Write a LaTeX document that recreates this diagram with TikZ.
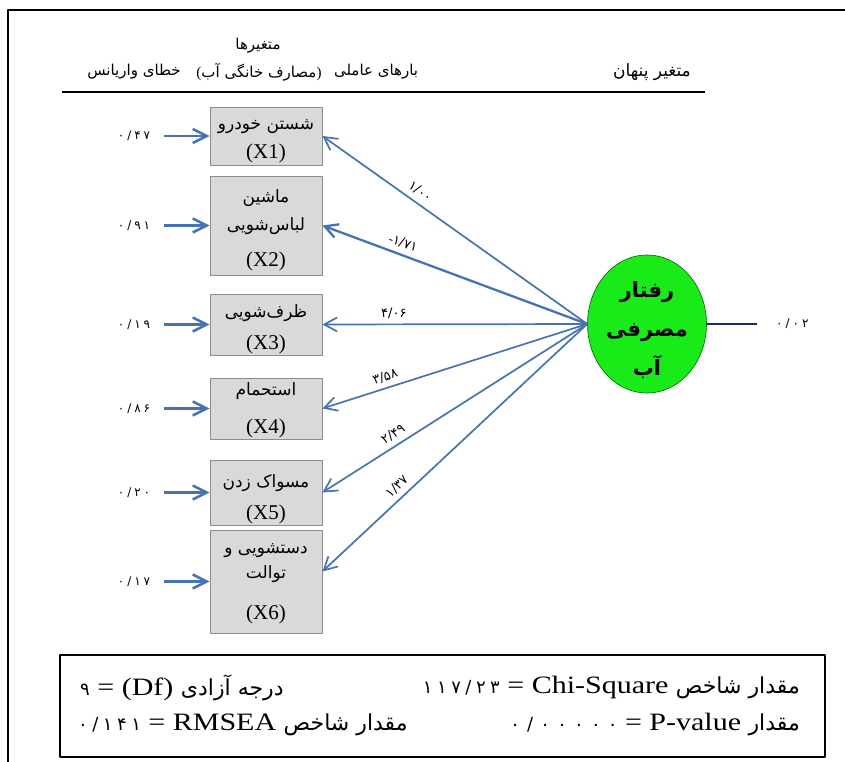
\documentclass[tikz,border=0pt]{standalone}
\usepackage{fontspec}
\setmainfont{Liberation Serif}
\newfontfamily\fa[Script=Arabic]{DejaVu Sans}
\newfontfamily\fanum[LetterSpace=25]{DejaVu Sans}
\newfontfamily\fanumwide[LetterSpace=40]{DejaVu Sans}
\newfontfamily\widerm[FakeStretch=1.2]{Liberation Serif}
\TeXXeTstate=1
\usetikzlibrary{arrows.meta,shapes.geometric}
\definecolor{arrowblue}{RGB}{70,115,180}
\definecolor{latentgreen}{RGB}{25,235,25}
\definecolor{errnavy}{RGB}{25,45,95}
\definecolor{boxfill}{RGB}{217,217,217}
\definecolor{boxgray}{RGB}{140,140,140}
\newcommand\fatext[1]{{\fa\beginR#1\endR}}
\newcommand\fasmall[1]{{\fontsize{17}{17}\selectfont\fa\beginR#1\endR}}
\newcommand\fitfa[1]{{\fontsize{22}{22}\selectfont\fa\beginR#1\endR}}
\newcommand\fitnum[1]{{\fontsize{18}{18}\selectfont\fanum #1}}
\newcommand\botstrut{\rule[-6pt]{0pt}{6pt}}

\begin{document}
\begin{tikzpicture}[x=1pt, y=-1pt, line join=round,
	varbox/.style={draw=boxgray, fill=boxfill, line width=0.8pt, minimum width=112pt, align=center, inner sep=0pt, font=\fontsize{21}{25}\selectfont},
	headtext/.style={font=\fontsize{15}{18}\selectfont, inner sep=0pt},
	numtext/.style={font=\fontsize{12}{14}\selectfont\fanum, text=black, inner sep=1pt},
	fittext/.style={font=\fontsize{25}{28}\selectfont\widerm, inner sep=0pt},
	errarrow/.style={arrowblue, line width=2.6pt, -{Straight Barb[length=14pt,width=14pt]}},
	loadarrow/.style={arrowblue, line width=1.7pt, -{Straight Barb[length=13pt,width=14pt]}},
	loadlabel/.style={font=\fontsize{13}{14}\selectfont\fa, text=black, sloped, above=5pt, inner sep=0pt}]
	\useasboundingbox (0,0) rectangle (845,762);
	% frame
	\draw[line width=2pt] (845,10) -- (8,10) -- (8,762);
	% header
	\node[headtext] (hvar) at (258,46) {\fatext{متغیرها}};
	\node[headtext] (herr) at (134,72) {\fatext{خطای واریانس}};
	\node[headtext] (hwat) at (259,72) {(\fatext{مصارف خانگی آب})};
	\node[headtext] (hload) at (376,72) {\fatext{بارهای عاملی}};
	\node[headtext, font=\fontsize{17}{18}\selectfont] (hlat) at (652,72) {\fatext{متغیر پنهان}};
	\draw[line width=1.5pt] (62,92) -- (705,92);
	% observed variables
	\node[varbox, minimum height=58pt] (x1) at (266,136) {\rule{0pt}{23pt}\fasmall{شستن خودرو}\\[4pt](X1)\botstrut};
	\node[varbox, minimum height=99pt] (x2) at (266,225.5) {\rule{0pt}{23pt}\fasmall{ماشین}\\[3pt]\fasmall{لباس‌شویی}\\[11pt](X2)\botstrut};
	\node[varbox, minimum height=59pt] (x3) at (266,324.5) {\rule{0pt}{23pt}\fasmall{ظرف‌شویی}\\[7pt](X3)\botstrut};
	\node[varbox, minimum height=59pt] (x4) at (266,408.5) {\rule{0pt}{17pt}\fasmall{استحمام}\\[13pt](X4)\botstrut};
	\node[varbox, minimum height=59pt] (x5) at (266,492.5) {\rule{0pt}{27pt}\fasmall{مسواک زدن}\\[7pt](X5)\botstrut};
	\node[varbox, minimum height=103pt] (x6) at (266,581.5) {\rule{0pt}{15pt}\fasmall{دستشویی و}\\[0pt]\fasmall{توالت}\\[16pt](X6)\botstrut};
	% error variances
	\node[numtext] (e1) at (134,136) {۰/۴۷};
	\node[numtext] (e2) at (134,225.5) {۰/۹۱};
	\node[numtext] (e3) at (134,324.5) {۰/۱۹};
	\node[numtext] (e4) at (134,408.5) {۰/۸۶};
	\node[numtext] (e5) at (134,492.5) {۰/۲۰};
	\node[numtext] (e6) at (134,581.5) {۰/۱۷};
	\draw[errarrow, shorten <=13pt] (e1.east) -- (x1.west);
	\draw[errarrow, shorten <=13pt] (e2.east) -- (x2.west);
	\draw[errarrow, shorten <=13pt] (e3.east) -- (x3.west);
	\draw[errarrow, shorten <=13pt] (e4.east) -- (x4.west);
	\draw[errarrow, shorten <=13pt] (e5.east) -- (x5.west);
	\draw[errarrow, shorten <=13pt] (e6.east) -- (x6.west);
	% latent variable
	\node[ellipse, draw=green!40!black, fill=latentgreen, line width=0.6pt, minimum width=119pt, minimum height=138pt, inner sep=0pt] (lv) at (647,324) {};
	\node[align=center, inner sep=0pt, font=\fontsize{21}{39}\selectfont\fa\bfseries] (lvtext) at (lv.center) {\rule{0pt}{31pt}\fatext{رفتار}\\\fatext{مصرفی}\\\fatext{آب}\rule[-7pt]{0pt}{7pt}};
	\coordinate (lverr) at (757,324);
	\draw[errnavy, line width=2.6pt] (lv.east) -- (lverr);
	\node[numtext, anchor=west] (elv) at (775,324) {۰/۰۲};
	% factor loadings
	\draw[loadarrow] (lv.west) -- node[loadlabel, pos=0.655] {۱/۰۰} (x1.east);
	\draw[loadarrow, line width=2.3pt] (lv.west) -- node[loadlabel, pos=0.71] {{\rmfamily -}۱/۷۱} (x2.east);
	\draw[loadarrow] (lv.west) -- node[loadlabel, pos=0.73] {۴/۰۶} (x3.east);
	\draw[loadarrow] (lv.west) -- node[loadlabel, pos=0.75] {۳/۵۸} (x4.east);
	\draw[loadarrow] (lv.west) -- node[loadlabel, pos=0.71] {۲/۴۹} (x5.east);
	\draw[loadarrow] (lv.west) -- node[loadlabel, pos=0.69] {۱/۳۷} ([yshift=10pt]x6.east);
	% fit indices
	\draw[line width=1.5pt] (60,655) rectangle (825,757);
	\node[fittext, anchor=east] (chi) at (800,688) {\fitnum{۱۱۷/۲۳} = Chi-Square \fitfa{مقدار شاخص}};
	\node[fittext, anchor=west] (df) at (80,688) {\fitnum{۹} = (Df) \fitfa{درجه آزادی}};
	\node[fittext, anchor=east] (pval) at (800,725) {{\fontsize{18}{18}\selectfont\fanumwide ۰/۰۰۰۰۰} = P-value \fitfa{مقدار}};
	\node[fittext, anchor=west] (rmsea) at (78,725) {\fitnum{۰/۱۴۱} = RMSEA \fitfa{مقدار شاخص}};
\end{tikzpicture}
\end{document}
